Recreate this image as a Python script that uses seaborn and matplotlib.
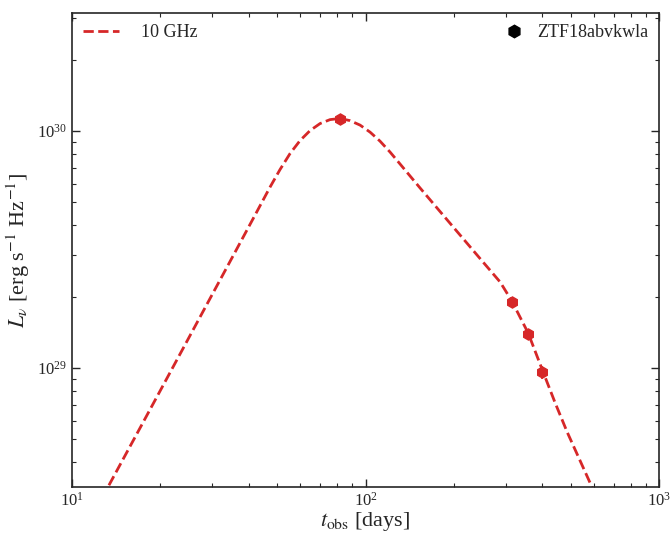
import numpy as np
import pandas as pd
import seaborn as sns
import matplotlib.pyplot as plt
from matplotlib.lines import Line2D

# model light curve at 10 GHz
model_t = [11.98, 13.27, 17.05, 21.58, 27.30, 34.54, 42.03, 47.27, 51.12, 55.31,
           59.81, 64.70, 69.98, 75.68, 81.86, 88.54, 95.78, 103.6, 112.0, 121.2,
           131.1, 153.4, 179.4, 209.9, 245.5, 287.3, 314.9, 357.9, 402.5, 442.4,
           485.9, 582.1, 629.5]
model_L = [2.49e28, 3.15e28, 5.58e28, 9.57e28, 1.641e29, 2.815e29, 4.42e29, 5.80e29,
           6.88e29, 8.04e29, 9.12e29, 1.005e30, 1.076e30, 1.118e30, 1.131e30, 1.107e30,
           1.060e30, 9.90e29, 9.07e29, 8.154e29, 7.26e29, 5.75e29, 4.575e29, 3.64e29,
           2.897e29, 2.307e29, 1.918e29, 1.405e29, 9.62e28, 7.12e28, 5.37e28, 3.27e28,
           2.64e28]

# observed points
obs_t = [81.9, 314.4, 356.5, 399.3]
obs_L = [1.13e30, 1.90e29, 1.39e29, 9.62e28]
obs_err = [2.5e28, 6e27, 5e27, 6e27]

red = "#d62728"

sns.set_style("ticks")
plt.rcParams["font.family"] = ["Liberation Serif", "DejaVu Serif"]
plt.rcParams["mathtext.fontset"] = "stix"
plt.rcParams["xtick.direction"] = "in"
plt.rcParams["ytick.direction"] = "in"
plt.rcParams["xtick.top"] = True
plt.rcParams["ytick.right"] = True

fig = plt.figure(figsize=(6.72, 5.33), dpi=100)
ax = fig.add_axes([0.107, 0.0863, 0.874, 0.8893])

df = pd.DataFrame({"t": model_t, "L": model_L})
sns.lineplot(data=df, x="t", y="L", ax=ax, color=red, lw=2, ls="--", label="10 GHz")
ax.errorbar(obs_t, obs_L, yerr=obs_err, fmt="h", color=red, ms=8, elinewidth=1.2, capsize=0)

ax.set_xscale("log")
ax.set_yscale("log")
ax.set_xlim(10, 1000)
ax.set_ylim(3.15e28, 3.15e30)

ax.set_xlabel(r"$t_{\rm obs}$ [days]", fontsize=16, labelpad=0)
ax.set_ylabel(r"$L_\nu$ [erg s$^{-1}$ Hz$^{-1}$]", fontsize=16)
ax.tick_params(which="major", length=6, width=1, labelsize=12)
ax.tick_params(which="minor", length=3, width=0.8)
for s in ax.spines.values():
    s.set_linewidth(1.2)

leg1 = ax.legend(loc="upper left", frameon=False, fontsize=13, borderaxespad=0.2,
                 handletextpad=1.2)
ax.add_artist(leg1)
h = Line2D([], [], marker="h", color="black", ls="none", ms=9)
ax.legend([h], ["ZTF18abvkwla"], loc="upper right", frameon=False, fontsize=13,
          borderaxespad=0.2, handletextpad=0.3)

fig.savefig("out.png", dpi=100)
